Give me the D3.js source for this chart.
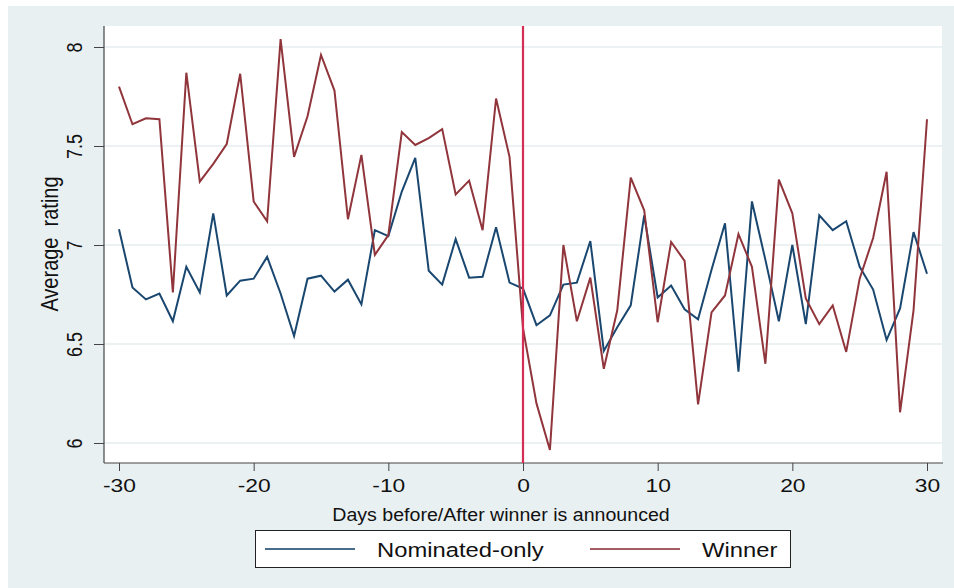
<!DOCTYPE html>
<html>
<head>
<meta charset="utf-8">
<script src="https://cdn.jsdelivr.net/npm/d3@7"></script>
<style>
  html, body { margin: 0; padding: 0; background: #ffffff; }
  svg { display: block; }
  text { font-family: "Liberation Sans", Arial, sans-serif; fill: #111; }
</style>
</head>
<body>
<div id="chart"></div>
<script>
// Days relative to the announcement
const days = [-30,-29,-28,-27,-26,-25,-24,-23,-22,-21,-20,-19,-18,-17,-16,-15,-14,-13,-12,-11,
  -10,-9,-8,-7,-6,-5,-4,-3,-2,-1,0,1,2,3,4,5,6,7,8,9,10,11,12,13,14,15,16,17,18,19,20,
  21,22,23,24,25,26,27,28,29,30];

// Average rating, nominated-only titles
const nominatedOnly = [7.08,6.785,6.725,6.755,6.615,6.89,6.76,7.16,6.745,6.82,6.83,6.94,6.755,6.54,6.83,
  6.845,6.765,6.825,6.70,7.075,7.045,7.27,7.44,6.87,6.80,7.03,6.835,6.84,7.09,6.81,
  6.78,6.595,6.645,6.80,6.81,7.02,6.465,6.585,6.695,7.15,6.735,6.795,6.675,6.625,6.875,
  7.11,6.36,7.22,6.925,6.615,7.00,6.60,7.15,7.075,7.12,6.89,6.775,6.52,6.68,7.065,6.855];

// Average rating, winners
const winner = [7.80,7.61,7.64,7.635,6.76,7.87,7.32,7.41,7.51,7.865,7.22,7.12,8.04,7.445,7.65,
  7.96,7.78,7.13,7.455,6.95,7.05,7.57,7.505,7.54,7.585,7.255,7.325,7.075,7.74,7.445,
  6.58,6.20,5.965,7.00,6.615,6.835,6.375,6.67,7.34,7.175,6.61,7.015,6.92,6.195,6.66,
  6.745,7.055,6.89,6.40,7.33,7.16,6.73,6.60,6.695,6.46,6.83,7.035,7.37,6.155,6.67,7.635];

const xTicks = [-30,-20,-10,0,10,20,30];
const yTicks = [6,6.5,7,7.5,8];
const seriesNames = ["Nominated-only", "Winner"];
const announceDay = 0;

const W = 954, H = 588;
const plot = { left: 104, right: 942, top: 26, bottom: 463 };
const colors = { nom: "#1a476f", win: "#90353b", xline: "#d42e55", grid: "#e6eef1", bg: "#e9f0f2" };
const SX = 1.2; // horizontal stretch of the lettering

const svg = d3.select("#chart").append("svg").attr("width", W).attr("height", H);

// graph region
svg.append("rect").attr("x", 8).attr("y", 6).attr("width", W - 8).attr("height", H - 6)
  .attr("fill", colors.bg);
// plot region
svg.append("rect").attr("x", plot.left).attr("y", plot.top)
  .attr("width", plot.right - plot.left).attr("height", plot.bottom - plot.top)
  .attr("fill", "#ffffff");

const x = d3.scaleLinear().domain([-30, 30]).range([119, 927]);
const y = d3.scaleLinear().domain([6, 8]).range([443, 47]);

// horizontal grid lines
svg.append("g").selectAll("line").data(yTicks).join("line")
  .attr("x1", plot.left).attr("x2", plot.right)
  .attr("y1", d => y(d)).attr("y2", d => y(d))
  .attr("stroke", colors.grid).attr("stroke-width", 1.5);

// x axis
const gx = svg.append("g").attr("transform", `translate(0,${plot.bottom})`)
  .call(d3.axisBottom(x).tickValues(xTicks).tickSize(8).tickSizeOuter(0).tickFormat(d3.format("d")));
gx.select(".domain").remove();
gx.selectAll(".tick line").attr("stroke", "#444");
gx.selectAll(".tick text").attr("y", 29).attr("dy", null)
  .attr("transform", `scale(${SX},1)`)
  .style("font-size", "19px").attr("fill", "#111")
  .text(d => d < 0 ? "-" + Math.abs(d) : d);
svg.append("line").attr("x1", plot.left).attr("x2", plot.right + 1)
  .attr("y1", plot.bottom).attr("y2", plot.bottom).attr("stroke", "#444").attr("stroke-width", 1.2);

// y axis
const gy = svg.append("g").attr("transform", `translate(${plot.left},0)`)
  .call(d3.axisLeft(y).tickValues(yTicks).tickSize(10).tickSizeOuter(0).tickFormat(d => d3.format("")(d)));
gy.select(".domain").remove();
gy.selectAll(".tick line").attr("stroke", "#444");
gy.selectAll(".tick text").attr("x", null).attr("dy", null)
  .attr("text-anchor", "middle")
  .attr("transform", `translate(-22,0) scale(${SX},1) rotate(-90)`)
  .style("font-size", "18px").attr("fill", "#111");
svg.append("line").attr("x1", plot.left).attr("x2", plot.left)
  .attr("y1", plot.top).attr("y2", plot.bottom).attr("stroke", "#444").attr("stroke-width", 1.2);

// axis titles
svg.append("text").attr("text-anchor", "middle")
  .attr("transform", `translate(501,521) scale(1.12,1)`)
  .style("font-size", "17.5px").text("Days before/After winner is announced");
svg.append("text").attr("text-anchor", "middle").attr("xml:space", "preserve")
  .attr("transform", `translate(58,244) scale(${SX},1) rotate(-90)`)
  .style("font-size", "20px").style("white-space", "pre").text("Average  rating");

// clip to plot region
svg.append("clipPath").attr("id", "plotclip").append("rect")
  .attr("x", plot.left).attr("y", plot.top)
  .attr("width", plot.right - plot.left).attr("height", plot.bottom - plot.top);

const line = d3.line().x((d, i) => x(days[i])).y(d => y(d));
const lines = svg.append("g").attr("clip-path", "url(#plotclip)");
lines.append("path").datum(nominatedOnly).attr("d", line)
  .attr("fill", "none").attr("stroke", colors.nom).attr("stroke-width", 2).attr("stroke-linejoin", "miter");
lines.append("path").datum(winner).attr("d", line)
  .attr("fill", "none").attr("stroke", colors.win).attr("stroke-width", 2).attr("stroke-linejoin", "miter");

// announcement day marker
svg.append("line").attr("x1", x(announceDay)).attr("x2", x(announceDay))
  .attr("y1", plot.top).attr("y2", plot.bottom)
  .attr("stroke", colors.xline).attr("stroke-width", 2.2);

// legend
const lg = svg.append("g");
lg.append("rect").attr("x", 255.5).attr("y", 530.5).attr("width", 535).attr("height", 37)
  .attr("fill", "#ffffff").attr("stroke", "#222").attr("stroke-width", 1);
const legendItems = [
  { name: seriesNames[0], color: colors.nom, x0: 265, x1: 355, tx: 377 },
  { name: seriesNames[1], color: colors.win, x0: 590, x1: 680, tx: 702 }
];
legendItems.forEach(it => {
  lg.append("line").attr("x1", it.x0).attr("x2", it.x1).attr("y1", 549).attr("y2", 549)
    .attr("stroke", it.color).attr("stroke-width", 2).attr("stroke-opacity", 0.8);
  lg.append("text").attr("transform", `translate(${it.tx},557) scale(1.22,1)`)
    .style("font-size", "19.5px").text(it.name);
});
</script>
</body>
</html>
